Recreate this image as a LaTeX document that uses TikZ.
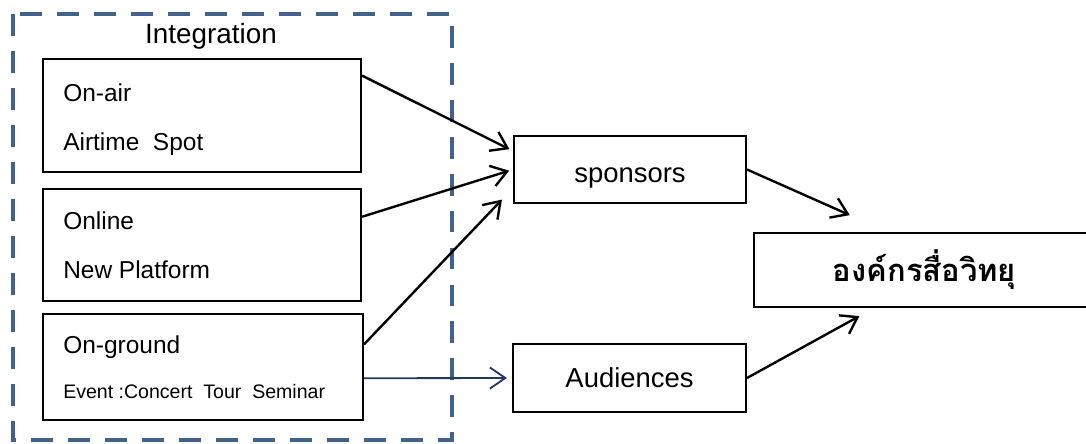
\documentclass[tikz,border=0pt]{standalone}
\usepackage{fontspec}
\setmainfont{Liberation Sans}
\newfontfamily\thaifont[Script=Thai]{Loma}
\usetikzlibrary{arrows.meta}

\definecolor{frameblue}{RGB}{65,98,140}
\definecolor{navyline}{RGB}{31,56,100}

\begin{document}
\begin{tikzpicture}[x=0.025cm, y=-0.025cm,
    box/.style={draw, line width=1.4pt, inner sep=0pt},
    flow/.style={line width=1.7pt, -{Straight Barb[length=11pt, width=15pt]}},
    lbl/.style={anchor=base west, inner sep=0pt, font=\fontsize{17.4}{20}\selectfont}]
  \useasboundingbox (0, 0) rectangle (1086, 444);

  % dashed frame round the three channels
  \draw[frameblue, line width=3.5pt, dash pattern=on 15.6pt off 10.7pt] (13, 14) rectangle (452, 440);
  \node[anchor=base, inner sep=0pt, font=\fontsize{19.8}{24}\selectfont] (integ) at (211, 44) {Integration};

  \node[box, minimum width=7.95cm, minimum height=2.825cm] (onair) at (202, 115.5) {};
  \node[lbl] (onairhead) at (63, 102) {On-air};
  \node[lbl] (onairsub) at (63, 151) {Airtime\ \ Spot};

  \node[box, minimum width=7.95cm, minimum height=2.8cm] (online) at (202, 245) {};
  \node[lbl] (onlinehead) at (63, 230) {Online};
  \node[lbl] (onlinesub) at (63, 279) {New Platform};

  \node[box, minimum width=8cm, minimum height=2.65cm] (onground) at (203, 367) {};
  \node[lbl] (ongroundhead) at (63, 354) {On-ground};
  \node[lbl, font=\fontsize{13.9}{16}\selectfont] (ongroundsub) at (63, 399) {Event :Concert\ \ Tour\ \ Seminar};

  \node[box, minimum width=5.8cm, minimum height=1.675cm, text height=17.8pt, text depth=0pt,
        font=\fontsize{19.5}{22}\selectfont] (sponsors) at (630, 169.5) {sponsors};
  \node[box, minimum width=5.825cm, minimum height=1.7cm, text height=14.2pt, text depth=0pt,
        font=\fontsize{19.5}{22}\selectfont] (audiences) at (629.5, 378) {Audiences};
  \node[box, minimum width=8.525cm, minimum height=1.85cm, text height=17pt, text depth=0pt,
        font=\thaifont\bfseries\fontsize{22}{25}\selectfont] (radio) at (924.5, 270) {องค์กรสื่อวิทยุ};

  \draw[flow, shorten >=0.1cm] (onair.14) -- (sponsors.171);
  \draw[flow, shorten >=0.1cm] (online.10) -- (sponsors.west);
  \draw[flow, shorten >=0.4cm] (onground.8.5) -- (sponsors.189.4);
  \draw[flow, navyline, line width=1.3pt, shorten >=0.125cm] (onground.-4) -- (audiences.west);

  \draw[flow, shorten >=1.04cm] (sponsors.east) -- (radio.134.6);
  \draw[flow, shorten >=0.42cm] (audiences.east) -- (radio.217.7);
\end{tikzpicture}
\end{document}
